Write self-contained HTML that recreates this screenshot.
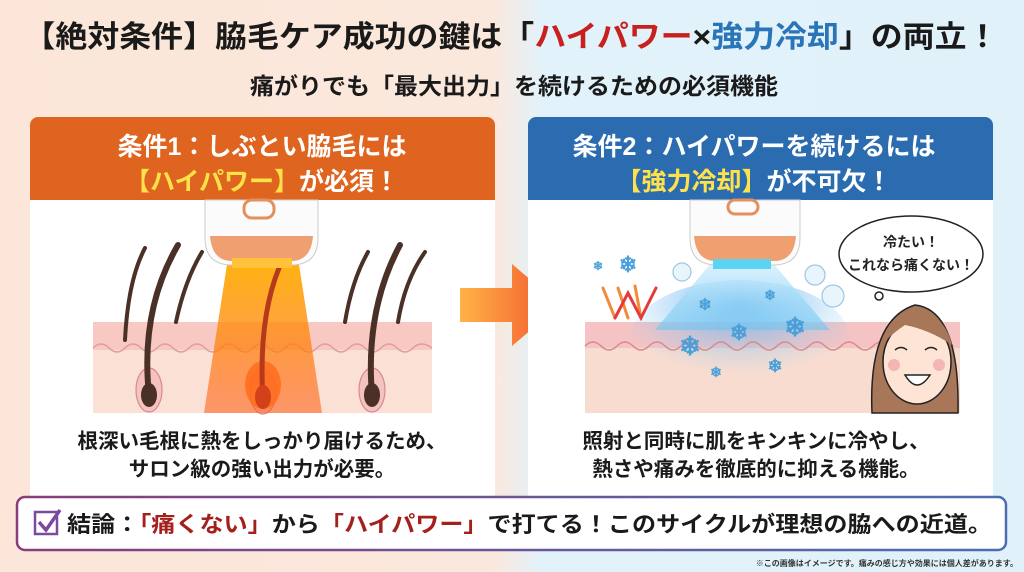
<!DOCTYPE html>
<html><head><meta charset="utf-8"><style>
html,body{margin:0;padding:0;width:1024px;height:572px;overflow:hidden}
svg{display:block}
text{font-family:"Liberation Sans","Noto Sans CJK JP",sans-serif;font-weight:bold}
</style></head><body>
<svg width="1024" height="572" viewBox="0 0 1024 572" xmlns="http://www.w3.org/2000/svg">
<defs>
<linearGradient id="bg" x1="0" x2="1" y1="0" y2="0">
<stop offset="0" stop-color="#fbe6d9"/><stop offset="0.48" stop-color="#fbe8dc"/><stop offset="0.53" stop-color="#e2f2fa"/><stop offset="1" stop-color="#e1f1fa"/></linearGradient>
<linearGradient id="bord" x1="0" x2="1"><stop offset="0" stop-color="#8a3d7e"/><stop offset="1" stop-color="#4b6fb0"/></linearGradient>
<linearGradient id="beam" x1="0" x2="0" y1="0" y2="1"><stop offset="0" stop-color="#ffb000" stop-opacity=".95"/><stop offset="1" stop-color="#ff5a10" stop-opacity=".55"/></linearGradient>
<linearGradient id="cold" x1="0" x2="0" y1="0" y2="1"><stop offset="0" stop-color="#d8f2ff" stop-opacity=".9"/><stop offset="1" stop-color="#6fc4f0" stop-opacity=".6"/></linearGradient>
<radialGradient id="coldskin" cx=".5" cy=".2" r=".6"><stop offset="0" stop-color="#5aaef0" stop-opacity=".9"/><stop offset="1" stop-color="#9fd3f5" stop-opacity="0"/></radialGradient>
<linearGradient id="arr" x1="0" x2="1"><stop offset="0" stop-color="#ffb347"/><stop offset="1" stop-color="#f2542d"/></linearGradient>
</defs>
<rect width="1024" height="572" fill="url(#bg)"/>
<text x="511" y="47" font-size="30" text-anchor="middle" fill="#1a1a1a" textLength="975" lengthAdjust="spacingAndGlyphs">【絶対条件】脇毛ケア成功の鍵は「<tspan fill="#c8201e">ハイパワー</tspan>×<tspan fill="#2a74b8">強力冷却</tspan>」の両立！</text>
<text x="514" y="94" font-size="23" text-anchor="middle" fill="#1a1a1a" textLength="528" lengthAdjust="spacingAndGlyphs">痛がりでも「最大出力」を続けるための必須機能</text>

<!-- left card -->
<rect x="30" y="117" width="465" height="385" rx="8" fill="#fff"/>
<path d="M30 200 V125 a8 8 0 0 1 8 -8 H487 a8 8 0 0 1 8 8 V200Z" fill="#df641f"/>
<text x="262" y="155" font-size="25" text-anchor="middle" fill="#fff">条件1：しぶとい脇毛には</text>
<text x="262" y="190" font-size="25" text-anchor="middle" fill="#fff"><tspan fill="#ffe14a">【ハイパワー】</tspan>が必須！</text>
<rect x="93" y="322" width="339" height="91" fill="#fbe0d6"/>
<rect x="93" y="322" width="339" height="28" fill="#f7c9c2"/>
<path d="M93 348 q8 -8 16 0 t16 0 t16 0 t16 0 t16 0 t16 0 t16 0 t16 0 t16 0 t16 0 t16 0 t16 0 t16 0 t16 0 t16 0 t16 0 t16 0 t16 0 t16 0 t16 0 t19 0" fill="none" stroke="#e39a9a" stroke-width="1.5"/>
<g fill="#f4c2c0" stroke="#d88a8a" stroke-width="1.2">
<ellipse cx="149" cy="390" rx="13" ry="22"/><ellipse cx="263" cy="392" rx="13" ry="22"/><ellipse cx="372" cy="390" rx="13" ry="22"/>
</g>
<polygon points="228,258 298,258 322,413 204,413" fill="url(#beam)"/>
<ellipse cx="263" cy="385" rx="18" ry="24" fill="#ff6a1a" opacity=".8"/>
<g stroke="#4a3026" stroke-linecap="round" fill="none">
<path d="M125 340 Q128 280 145 248" stroke-width="4"/>
<path d="M149 395 Q140 310 178 245" stroke-width="6"/>
<path d="M176 322 Q185 280 202 252" stroke-width="4"/>
<path d="M345 322 Q352 280 368 252" stroke-width="4"/>
<path d="M372 395 Q365 310 400 245" stroke-width="6"/>
<path d="M398 322 Q405 280 425 252" stroke-width="4"/>
<path d="M263 400 Q258 320 279 268" stroke="#b5391a" stroke-width="5"/>
</g>
<g fill="#4a3026"><ellipse cx="149" cy="395" rx="8" ry="12"/><ellipse cx="372" cy="395" rx="8" ry="12"/></g>
<ellipse cx="263" cy="397" rx="8" ry="12" fill="#d3401a"/>
<path d="M205 200 H318 V238 q0 27 -27 27 H232 q-27 0 -27 -27Z" fill="#fbfbfb" stroke="#ccc"/>
<path d="M210 236 H313 q-2 25 -22 25 H232 q-20 0 -22 -25Z" fill="#f0a070"/>
<rect x="232" y="258" width="60" height="10" fill="#ffc23a"/>
<rect x="244" y="200" width="30" height="18" rx="8" fill="none" stroke="#e3905e" stroke-width="3"/>
<text x="262" y="448" font-size="20.5" text-anchor="middle" fill="#1a1a1a">根深い毛根に熱をしっかり届けるため、</text>
<text x="262" y="476" font-size="20.5" text-anchor="middle" fill="#1a1a1a">サロン級の強い出力が必要。</text>

<polygon points="460,288 512,288 512,264 560,305 512,346 512,322 460,322" fill="url(#arr)"/>

<!-- right card -->
<rect x="528" y="117" width="465" height="385" rx="8" fill="#fff"/>
<path d="M528 200 V125 a8 8 0 0 1 8 -8 H985 a8 8 0 0 1 8 8 V200Z" fill="#2b6cb0"/>
<text x="754" y="155" font-size="25" text-anchor="middle" fill="#fff">条件2：ハイパワーを続けるには</text>
<text x="754" y="190" font-size="25" text-anchor="middle" fill="#fff"><tspan fill="#ffe14a">【強力冷却】</tspan>が不可欠！</text>
<rect x="585" y="322" width="375" height="91" fill="#f9dcd0"/>
<rect x="585" y="322" width="375" height="26" fill="#f5c3c3"/>
<ellipse cx="740" cy="340" rx="110" ry="60" fill="url(#coldskin)"/>
<path d="M585 346 q8 -8 16 0 t16 0 t16 0 t16 0 t16 0 t16 0 t16 0 t16 0 t16 0 t16 0 t16 0 t16 0 t16 0 t16 0 t16 0 t16 0 t16 0 t16 0 t16 0 t16 0 t16 0 t16 0 t16 0" fill="none" stroke="#d88a8a" stroke-width="1.5"/>
<polygon points="712,262 772,262 830,330 655,330" fill="url(#cold)"/>
<g fill="#4a9fd8" font-size="22" text-anchor="middle">
<text x="628" y="272" fill="#4aa0dd">❄</text><text x="598" y="270" font-size="12">❄</text>
<text x="705" y="310" font-size="16">❄</text><text x="770" y="300" font-size="14">❄</text>
<text x="795" y="336" font-size="26">❄</text><text x="739" y="340">❄</text>
<text x="690" y="355" font-size="26">❄</text><text x="775" y="372" font-size="18">❄</text><text x="716" y="377" font-size="14">❄</text>
</g>
<g fill="none" stroke-width="3" stroke-linecap="round">
<path d="M615 318 l-12 -30 M628 318 l-10 -30 M641 318 l-6 -32" stroke="#f28a3a"/>
<path d="M615 318 l13 -25 l13 25 l15 -30" stroke="#e53a3a"/>
</g>
<g fill="#e9f5fc" stroke="#9cc6e0" stroke-width="1.2">
<circle cx="682" cy="272" r="9"/><circle cx="815" cy="275" r="10"/><circle cx="833" cy="296" r="11"/>
</g>
<path d="M690 200 H800 V238 q0 27 -27 27 H717 q-27 0 -27 -27Z" fill="#fbfbfb" stroke="#ccc"/>
<path d="M694 236 H796 q-2 25 -22 25 H716 q-20 0 -22 -25Z" fill="#f0a070"/>
<rect x="713" y="259" width="58" height="10" fill="#5ad4f0"/>
<rect x="728" y="200" width="30" height="14" rx="7" fill="none" stroke="#e3905e" stroke-width="3"/>
<ellipse cx="911" cy="254" rx="72" ry="38" fill="#fff" stroke="#222" stroke-width="1.5"/>
<circle cx="879" cy="296" r="4" fill="#fff" stroke="#222" stroke-width="1.5"/>
<text x="911" y="247" font-size="14" text-anchor="middle" fill="#222">冷たい！</text>
<text x="911" y="270" font-size="14" text-anchor="middle" fill="#222">これなら痛くない！</text>
<path d="M872 413 Q868 320 915 305 Q960 310 958 413Z" fill="#a8775a" stroke="#222" stroke-width="1.5"/>
<ellipse cx="917" cy="362" rx="34" ry="42" fill="#fde4d4" stroke="#222" stroke-width="1.5"/>
<path d="M882 345 Q890 312 918 312 Q945 315 952 345 Q930 330 905 325 Q890 335 882 345Z" fill="#a8775a"/>
<g fill="none" stroke="#222" stroke-width="1.5"><path d="M895 350 q6 -5 12 0"/><path d="M925 350 q6 -5 12 0"/></g>
<circle cx="894" cy="365" r="6" fill="#f5b5b5"/><circle cx="939" cy="365" r="6" fill="#f5b5b5"/>
<path d="M905 375 Q917 395 930 375Z" fill="#fff" stroke="#222" stroke-width="1.5"/>
<text x="756" y="448" font-size="20.5" text-anchor="middle" fill="#1a1a1a">照射と同時に肌をキンキンに冷やし、</text>
<text x="756" y="476" font-size="20.5" text-anchor="middle" fill="#1a1a1a">熱さや痛みを徹底的に抑える機能。</text>

<rect x="17" y="497" width="989" height="53" rx="8" fill="#fff" stroke="url(#bord)" stroke-width="2.5"/>
<rect x="35" y="512" width="22" height="22" fill="#fff" stroke="#7a4aa0" stroke-width="2.5"/>
<path d="M39 522 l7 8 l14 -20" fill="none" stroke="#7a4aa0" stroke-width="3.5"/>
<text x="67" y="532" font-size="22" fill="#1a1a1a" textLength="925" lengthAdjust="spacingAndGlyphs">結論：<tspan fill="#a3201c">「痛くない」</tspan>から<tspan fill="#a3201c">「ハイパワー」</tspan>で打てる！このサイクルが理想の脇への近道。</text>
<text x="1018" y="566" font-size="8" text-anchor="end" fill="#333">※この画像はイメージです。痛みの感じ方や効果には個人差があります。</text>
</svg>
</body></html>
